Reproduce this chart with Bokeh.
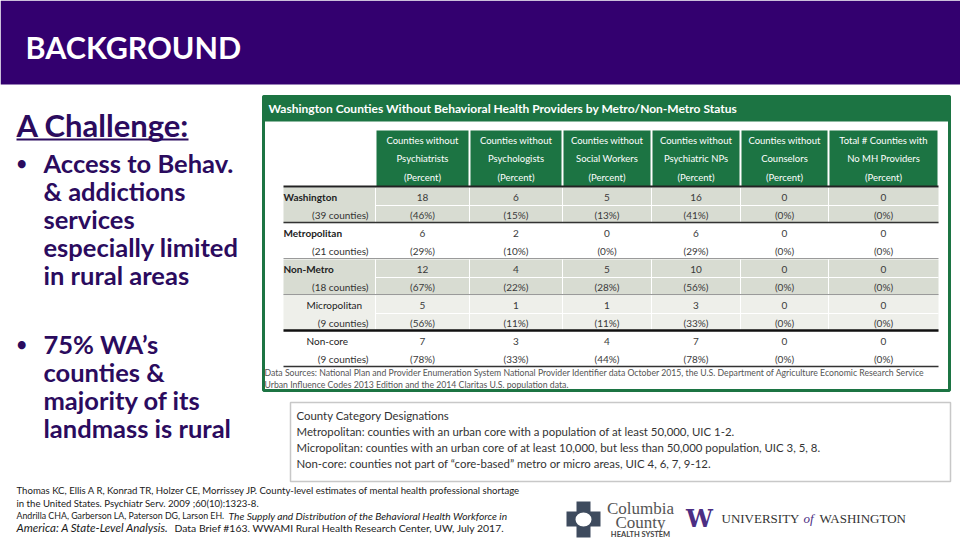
from bokeh.plotting import figure
from bokeh.models import Range1d
from bokeh.core.properties import value
from bokeh.embed import file_html
from bokeh.resources import INLINE

# ---------------- content ----------------
slide_title = "BACKGROUND"
heading = "A Challenge:"
bullet1 = ["Access to Behav.", "& addictions", "services", "especially limited", "in rural areas"]
bullet2 = ["75% WA\u2019s", "counties &", "majority of its", "landmass is rural"]

table_title = "Washington Counties Without Behavioral Health Providers by Metro/Non-Metro Status"
col_headers = [
    ["Counties without", "Psychiatrists", "(Percent)"],
    ["Counties without", "Psychologists", "(Percent)"],
    ["Counties without", "Social Workers", "(Percent)"],
    ["Counties without", "Psychiatric NPs", "(Percent)"],
    ["Counties without", "Counselors", "(Percent)"],
    ["Total # Counties with", "No MH Providers", "(Percent)"],
]
row_labels = ["Washington", "Metropolitan", "Non-Metro", "Micropolitan", "Non-core"]
row_counties = ["(39 counties)", "(21 counties)", "(18 counties)", "(9 counties)", "(9 counties)"]
row_is_sub = [False, False, False, True, True]

psychiatrists = [18, 6, 12, 5, 7]
psychiatrists_pct = [46, 29, 67, 56, 78]
psychologists = [6, 2, 4, 1, 3]
psychologists_pct = [15, 10, 22, 11, 33]
social_workers = [5, 0, 5, 1, 4]
social_workers_pct = [13, 0, 28, 11, 44]
psychiatric_nps = [16, 6, 10, 3, 7]
psychiatric_nps_pct = [41, 29, 56, 33, 78]
counselors = [0, 0, 0, 0, 0]
counselors_pct = [0, 0, 0, 0, 0]
no_mh_providers = [0, 0, 0, 0, 0]
no_mh_providers_pct = [0, 0, 0, 0, 0]

data_source_lines = [
    "Data Sources: National Plan and Provider Enumeration System National Provider Identifier data October 2015, the U.S. Department of Agriculture Economic Research Service",
    "Urban Influence Codes 2013 Edition and the 2014 Claritas U.S. population data.",
]
designations = [
    "County Category Designations",
    "Metropolitan: counties with an urban core with a population of at least 50,000, UIC 1-2.",
    "Micropolitan: counties with an urban core of at least 10,000, but less than 50,000 population, UIC 3, 5, 8.",
    "Non-core: counties not part of \u201ccore-based\u201d metro or micro areas, UIC 4, 6, 7, 9-12.",
]
ref1 = ["Thomas KC, Ellis A R, Konrad TR, Holzer CE, Morrissey JP. County-level estimates of mental health professional shortage",
        "in the United States. Psychiatr Serv. 2009 ;60(10):1323-8."]
ref2_plain = "Andrilla CHA, Garberson LA, Paterson DG, Larson EH."
ref2_italic = "The Supply and Distribution of the Behavioral Health Workforce in"
ref3_italic = "America: A State-Level Analysis."
ref3_plain = "Data Brief #163. WWAMI Rural Health Research Center, UW, July 2017."

# ---------------- styling ----------------
PURPLE = "#33006F"
TEXT_PURPLE = "#2B0B5E"
GREEN = "#1C7443"
SHADE = ["#D8DCD2", "#FFFFFF", "#D8DCD2", "#EEEFEA", "#FFFFFF"]
FONT = "Lato"

W, H = 960, 540
p = figure(width=W, height=H, x_range=Range1d(0, W), y_range=Range1d(H, 0),
           output_backend="svg", toolbar_location=None, min_border=0)
p.axis.visible = False
p.grid.visible = False
p.outline_line_color = None
p.background_fill_color = "white"
p.border_fill_color = "white"


def txt(x, y, t, size, color="#222222", style="normal", align="left", baseline="middle", font=FONT):
    p.text(x=[x], y=[y], text=[t], text_font=value(font), text_font_size=f"{size}px",
           text_font_style=style, text_color=color, text_align=align, text_baseline=baseline)


# header band
p.quad(left=[0], right=[960], top=[0], bottom=[84], fill_color=PURPLE, line_color=None)
txt(25, 46, slide_title, 30.5, "white", "bold")

# left column
txt(16, 124, heading, 31, TEXT_PURPLE, "bold")
p.segment(x0=[16], y0=[139], x1=[188], y1=[139], line_color=TEXT_PURPLE, line_width=2)
for i, line in enumerate(bullet1):
    txt(43, 162 + 28 * i, line, 25.5, TEXT_PURPLE, "bold")
txt(16, 162, "\u2022", 18, TEXT_PURPLE, "bold")
for i, line in enumerate(bullet2):
    txt(43, 343 + 28 * i, line, 25.5, TEXT_PURPLE, "bold")
txt(16, 343, "\u2022", 18, TEXT_PURPLE, "bold")

# table frame
p.quad(left=[263], right=[949], top=[96], bottom=[390], fill_color="white",
       line_color=GREEN, line_width=3)
p.quad(left=[262], right=[950], top=[95], bottom=[121], fill_color=GREEN, line_color=None)
txt(268, 108, table_title, 12, "white", "bold")

bounds = [375, 469, 562, 651, 740, 828, 938]
label_left = 283
head_top, head_bot = 130, 186
body_top, sub_h = 187, 18

for j, lines in enumerate(col_headers):
    p.quad(left=[bounds[j] + 1], right=[bounds[j + 1] - 1], top=[head_top], bottom=[head_bot],
           fill_color=GREEN, line_color=None)
    cx = (bounds[j] + bounds[j + 1]) / 2
    for k, line in enumerate(lines):
        txt(cx, head_top + 9.5 + 18.5 * k, line, 9.5, "white", "normal", "center")

columns = [
    (psychiatrists, psychiatrists_pct),
    (psychologists, psychologists_pct),
    (social_workers, social_workers_pct),
    (psychiatric_nps, psychiatric_nps_pct),
    (counselors, counselors_pct),
    (no_mh_providers, no_mh_providers_pct),
]

for i, lab in enumerate(row_labels):
    top = body_top + 2 * sub_h * i
    p.quad(left=[label_left], right=[bounds[-1]], top=[top], bottom=[top + 2 * sub_h],
           fill_color=SHADE[i], line_color=None)
    if SHADE[i] != "#FFFFFF":
        p.segment(x0=bounds[:-1], y0=[top] * 6, x1=bounds[:-1], y1=[top + 2 * sub_h] * 6,
                  line_color="white", line_width=1)
        p.segment(x0=[bounds[0]], y0=[top + sub_h], x1=[bounds[-1]], y1=[top + sub_h],
                  line_color="white", line_width=1)
    lx = label_left + (23 if row_is_sub[i] else 0)
    txt(lx, top + 9.5, lab, 10, "#222222", "normal" if row_is_sub[i] else "bold")
    txt(368, top + 27.5, row_counties[i], 10, "#333333", "normal", "right")
    for j, (cnt, pct) in enumerate(columns):
        cx = (bounds[j] + bounds[j + 1]) / 2
        txt(cx, top + 9.5, str(cnt[i]), 10, "#3A3A3A", "normal", "center")
        txt(cx, top + 27.5, f"({pct[i]}%)", 10, "#3A3A3A", "normal", "center")

# rules
rule_y = [186, 222, 258, 294, 330, 366]
rule_c = ["#222222", "#333333", "#9A9A9A", "#9A9A9A", "#111111", "#333333"]
rule_w = [2, 1.5, 1, 1, 2.5, 1.5]
for yy, cc, ww in zip(rule_y, rule_c, rule_w):
    p.segment(x0=[label_left], y0=[yy], x1=[bounds[-1]], y1=[yy], line_color=cc, line_width=ww)

for k, line in enumerate(data_source_lines):
    txt(264, 372 + 12 * k, line, 8.7, "#555555")

# designations box
p.quad(left=[290], right=[950], top=[402], bottom=[481], fill_color="white",
       line_color="#C8C8C8", line_width=1.5)
for k, line in enumerate(designations):
    txt(296, 415 + 16 * k, line, 11.4, "#333333")

# references
txt(16, 490, ref1[0], 9.6, "#1A1A1A")
txt(16, 502.5, ref1[1], 9.6, "#1A1A1A")
txt(16, 515, ref2_plain, 8.8, "#1A1A1A")
txt(228, 515, ref2_italic, 10.2, "#1A1A1A", "italic")
txt(16, 527, ref3_italic, 11.5, "#1A1A1A", "italic")
txt(174, 527, ref3_plain, 10.4, "#1A1A1A")

# logos
CROSS = "#3E4B5E"
p.quad(left=[576], right=[590], top=[501], bottom=[537], fill_color=CROSS, line_color=None)
p.quad(left=[566], right=[600], top=[511], bottom=[526], fill_color=CROSS, line_color=None)
p.ellipse(x=[583], y=[519], width=[18], height=[16], fill_color="white", line_color=CROSS, line_width=2)
txt(640, 508, "Columbia", 17, "#555555", "normal", "center", font="Liberation Serif")
txt(640, 522, "County", 17, "#555555", "normal", "center", font="Liberation Serif")
txt(640, 533.5, "HEALTH SYSTEM", 7.5, "#444444", "bold", "center")

txt(699, 518, "W", 24, "#4B2E83", "bold", "center", font="DejaVu Serif")
txt(721, 518, "UNIVERSITY", 13, "#333333", "normal", font="Liberation Serif")
txt(803, 518, "of", 13, "#4B2E83", "italic", font="Liberation Serif")
txt(819, 518, "WASHINGTON", 13, "#333333", "normal", font="Liberation Serif")

open("out.html", "w").write(file_html(p, INLINE))
